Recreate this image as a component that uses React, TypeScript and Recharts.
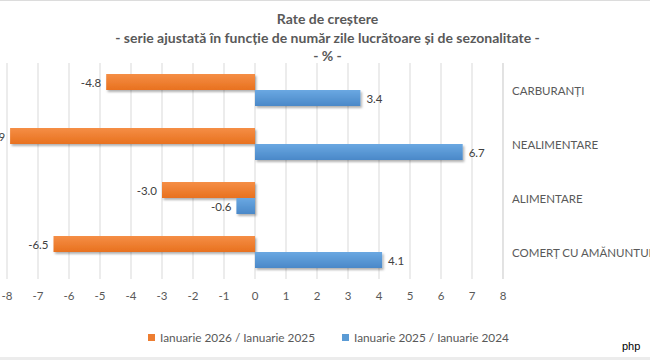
import React from 'react';
import { BarChart, Bar, XAxis, YAxis, CartesianGrid, Legend, LabelList } from 'recharts';

const categories = ['CARBURANȚI', 'NEALIMENTARE', 'ALIMENTARE', 'COMERȚ CU AMĂNUNTUL'];
const seriesJan26 = [-4.8, -7.9, -3.0, -6.5];
const seriesJan25 = [3.4, 6.7, -0.6, 4.1];
const seriesNames = ['Ianuarie 2026 / Ianuarie 2025', 'Ianuarie 2025 / Ianuarie 2024'];
const xTicks = [-8, -7, -6, -5, -4, -3, -2, -1, 0, 1, 2, 3, 4, 5, 6, 7, 8];
const titleLines = ['Rate de creștere', '- serie ajustată în funcție de număr zile lucrătoare și de sezonalitate -', '- % -'];

const data = categories.map((name, i) => ({ name, a: seriesJan26[i], b: seriesJan25[i] }));

const FONT = 'Lato, "Open Sans", sans-serif';
const ORANGE = '#ED7D31';
const BLUE = '#5B9BD5';

const BarShape = (fill: string) => (props: any) => {
  const { x, y, width, height } = props;
  const left = Math.min(x, x + width);
  const w = Math.abs(width);
  const top = Math.min(y, y + height);
  const h = Math.abs(height);
  return <rect x={left} y={top} width={w} height={h} fill={fill} filter="url(#shadow)" />;
};

const renderLabel = (props: any) => {
  const { x, y, width, height, value } = props;
  const left = Math.min(x, x + width);
  const right = Math.max(x, x + width);
  const neg = value < 0;
  return (
    <text
      x={neg ? left - 5 : right + 6}
      y={y + height / 2}
      textAnchor={neg ? 'end' : 'start'}
      dominantBaseline="central"
      fontSize={11.5}
      fontFamily={FONT}
      fill="#404040"
    >
      {Number(value).toFixed(1)}
    </text>
  );
};

const CategoryTick = (props: any) => {
  const { x, y, payload } = props;
  return (
    <text x={x} y={y} textAnchor="start" dominantBaseline="central" fontSize={11.5} fontFamily={FONT} fill="#595959">
      {payload.value}
    </text>
  );
};

const renderLegend = () => (
  <div style={{ display: 'flex', justifyContent: 'center', alignItems: 'center', fontFamily: FONT, fontSize: 11.8, color: '#595959' }}>
    <span style={{ display: 'inline-block', width: 7, height: 7, background: ORANGE, marginRight: 5 }} />
    <span style={{ marginRight: 27 }}>{seriesNames[0]}</span>
    <span style={{ display: 'inline-block', width: 7, height: 7, background: BLUE, marginRight: 5 }} />
    <span>{seriesNames[1]}</span>
  </div>
);

export default function App() {
  return (
    <div style={{ position: 'absolute', left: 0, top: 0, width: 650, height: 360, overflow: 'hidden', background: '#fff' }}>
      <div style={{ position: 'absolute', left: 0, top: 0, width: 650, height: 1, background: '#dcdcdc' }} />
      <div style={{ position: 'absolute', left: 0, top: 357, width: 650, height: 3, background: '#ececec' }} />
      <div style={{ position: 'absolute', left: 0, top: 10, width: 655, textAlign: 'center', fontFamily: FONT, fontWeight: 700, fontSize: 14, color: '#595959', lineHeight: '18.5px' }}>
        {titleLines.map((t) => (
          <div key={t}>{t}</div>
        ))}
      </div>
      <BarChart
        width={650}
        height={357}
        data={data}
        layout="vertical"
        margin={{ top: 63, right: 0, left: 7, bottom: 5 }}
        barSize={16}
        barGap={0}
      >
        <defs>
          <linearGradient id="gOrange" x1="0" y1="0" x2="0" y2="1">
            <stop offset="0%" stopColor="#F58E45" />
            <stop offset="100%" stopColor="#E8711F" />
          </linearGradient>
          <linearGradient id="gBlue" x1="0" y1="0" x2="0" y2="1">
            <stop offset="0%" stopColor="#6AA8E2" />
            <stop offset="100%" stopColor="#4A88C8" />
          </linearGradient>
          <filter id="shadow" x="-10%" y="-30%" width="130%" height="180%">
            <feDropShadow dx="1.5" dy="2" stdDeviation="1.2" floodColor="#000" floodOpacity="0.3" />
          </filter>
        </defs>
        <CartesianGrid vertical={true} horizontal={false} stroke="#d9d9d9" />
        <XAxis
          type="number"
          domain={[-8, 8]}
          ticks={xTicks}
          axisLine={false}
          tickLine={false}
          height={51}
          tickMargin={7}
          tick={{ fontSize: 11.5, fill: '#595959', fontFamily: FONT }}
        />
        <YAxis
          type="category"
          dataKey="name"
          orientation="right"
          width={147}
          axisLine={{ stroke: '#d9d9d9' }}
          tickLine={false}
          tickMargin={3}
          tick={<CategoryTick />}
        />
        <Legend verticalAlign="bottom" height={22} content={renderLegend} />
        <Bar dataKey="a" name={seriesNames[0]} fill={ORANGE} shape={BarShape('url(#gOrange)')} isAnimationActive={false}>
          <LabelList dataKey="a" content={renderLabel} />
        </Bar>
        <Bar dataKey="b" name={seriesNames[1]} fill={BLUE} shape={BarShape('url(#gBlue)')} isAnimationActive={false}>
          <LabelList dataKey="b" content={renderLabel} />
        </Bar>
      </BarChart>
      <div style={{ position: 'absolute', left: 622, top: 340, fontFamily: '"Liberation Sans", Arial, sans-serif', fontSize: 11, color: '#000' }}>php</div>
    </div>
  );
}
